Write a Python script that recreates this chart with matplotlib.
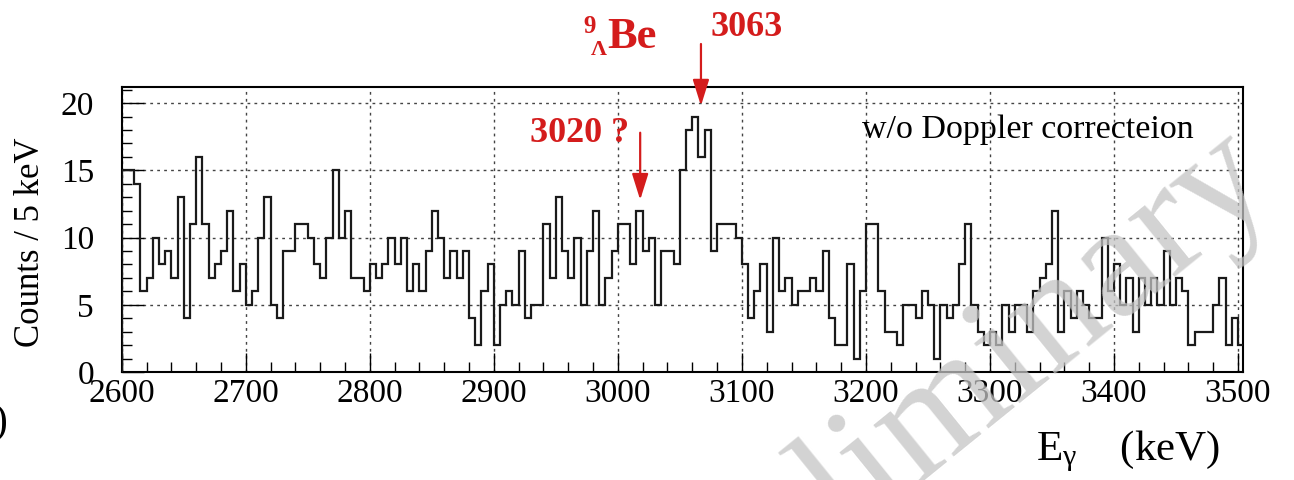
import numpy as np
import matplotlib
matplotlib.use("Agg")
import matplotlib.pyplot as plt
from matplotlib.ticker import MultipleLocator

plt.rcParams["font.family"] = ["Liberation Serif", "DejaVu Serif"]
plt.rcParams["mathtext.fontset"] = "custom"
plt.rcParams["mathtext.rm"] = "Liberation Serif"
plt.rcParams["mathtext.it"] = "Liberation Serif:italic"

# counts per 5 keV bin, 2600 .. 3505 keV
counts_2600 = [15, 15, 14, 6, 7, 10, 8, 9, 7, 13, 4, 11, 16, 11, 7, 8, 9, 12, 6, 8]
counts_2700 = [5, 6, 10, 13, 5, 4, 9, 9, 11, 11, 10, 8, 7, 10, 15, 10, 12, 7, 7, 6]
counts_2800 = [8, 7, 8, 10, 8, 10, 6, 8, 6, 9, 12, 10, 7, 9, 7, 9, 4, 2, 6, 8]
counts_2900 = [2, 5, 6, 5, 9, 4, 5, 5, 11, 7, 13, 9, 7, 10, 5, 9, 12, 5, 7, 9]
counts_3000 = [11, 11, 8, 12, 9, 10, 5, 9, 9, 8, 15, 18, 19, 16, 18, 9, 11, 11, 11, 10]
counts_3100 = [8, 4, 6, 8, 3, 10, 6, 7, 5, 6, 6, 7, 6, 9, 4, 2, 2, 8, 1, 6]
counts_3200 = [11, 11, 6, 3, 3, 2, 5, 5, 4, 6, 5, 1, 5, 4, 5, 8, 11, 5, 3, 2]
counts_3300 = [3, 2, 5, 3, 5, 5, 3, 6, 7, 8, 12, 3, 6, 4, 6, 5, 4, 4, 10, 6]
counts_3400 = [8, 5, 7, 3, 7, 5, 7, 5, 9, 5, 7, 6, 2, 3, 3, 3, 5, 7, 2, 4]
counts_3500 = [2]

counts = (counts_2600 + counts_2700 + counts_2800 + counts_2900 + counts_3000
          + counts_3100 + counts_3200 + counts_3300 + counts_3400 + counts_3500)
edges = np.arange(2600, 3510, 5)

peak_3020 = 3018
peak_3063 = 3067

red = "#d41c1c"

W, H = 1294, 480
fig = plt.figure(figsize=(W / 100, H / 100), dpi=100)
ax = fig.add_axes([121.7 / W, 1 - 372 / H, (1243 - 121.7) / W, (372 - 87) / H])

ax.stairs(counts, edges, color="#1a1a1a", lw=1.6, zorder=3)

ax.set_xlim(2600, 3504)
ax.set_ylim(0, 21.2)
ax.xaxis.set_major_locator(MultipleLocator(100))
ax.xaxis.set_minor_locator(MultipleLocator(20))
ax.yaxis.set_major_locator(MultipleLocator(5))
ax.yaxis.set_minor_locator(MultipleLocator(1))
ax.tick_params(which="both", direction="in", top=False, right=False, width=1)
ax.tick_params(axis="x", which="major", length=14, labelsize=24, pad=5)
ax.tick_params(axis="x", which="minor", length=7)
ax.tick_params(axis="y", which="major", length=16, labelsize=24, pad=20)
ax.tick_params(axis="y", which="minor", length=7)
ax.grid(True, which="major", color="#444444", lw=1, linestyle=(0, (2, 3)), zorder=1)
for s in ax.spines.values():
    s.set_linewidth(1.5)

fig.text(31 / W, 1 - 242 / H, "Counts / 5 keV", rotation=90, fontsize=25,
         ha="center", va="center")
fig.text(1220 / W, 1 - 460 / H, r"E$_{\mathrm{\gamma}}$    (keV)", fontsize=31,
         ha="right", va="baseline")
fig.text(862 / W, 1 - 138 / H, "w/o Doppler correcteion", fontsize=24.5,
         ha="left", va="baseline")

# red labels and arrows
fig.text(530 / W, 1 - 133 / H, "3020 ?", fontsize=26, fontweight="bold",
         color=red, ha="left", va="center")
fig.text(710 / W, 1 - 28 / H, "3063", fontsize=26, fontweight="bold",
         color=red, ha="left", va="center")
fig.text(607 / W, 1 - 48 / H, "Be", fontsize=32, fontweight="bold",
         color=red, ha="left", va="baseline")
fig.text(583 / W, 1 - 33 / H, "9", fontsize=18, fontweight="bold",
         color=red, ha="left", va="baseline")
fig.text(591 / W, 1 - 55 / H, "\u039b", fontsize=16, fontweight="bold",
         color=red, ha="left", va="baseline")

arrow = dict(arrowstyle="-|>,head_length=1.6,head_width=0.5", color=red, lw=1.6,
             shrinkA=0, shrinkB=0)
ax.annotate("", xy=(peak_3020, 12.8), xytext=(peak_3020, 17.8), arrowprops=arrow,
            annotation_clip=False, zorder=5)
ax.annotate("", xy=(peak_3063, 19.8), xytext=(peak_3063, 24.4), arrowprops=arrow,
            annotation_clip=False, zorder=5)

# watermark
fig.text(1278 / W, 1 - 190 / H, "Preliminary", fontsize=118,
         color="#c4c4c4", alpha=0.75, rotation=39, rotation_mode="anchor",
         ha="right", va="baseline", zorder=10)

fig.text(-6 / W, 1 - 433 / H, ")", fontsize=30, ha="left", va="baseline")

fig.savefig("out.png", dpi=100)
